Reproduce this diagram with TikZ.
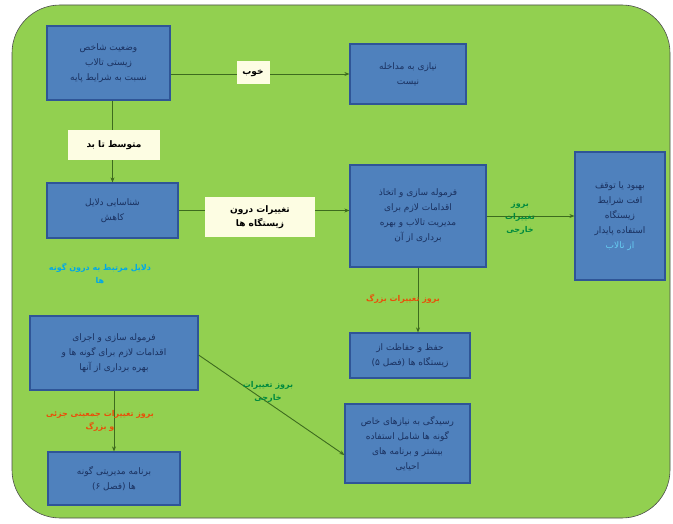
\documentclass[tikz,border=0pt]{standalone}
\usepackage{fontspec}
\newfontfamily\arabicfont[Script=Arabic]{DejaVu Sans}
\TeXXeTstate=1
\newcommand{\fa}[1]{\beginR #1\endR}
\definecolor{bggreen}{HTML}{92D050}
\definecolor{boxblue}{HTML}{4F81BD}
\definecolor{boxedge}{HTML}{2F5597}
\definecolor{boxtext}{HTML}{1A3160}
\definecolor{linegreen}{HTML}{3D6B1E}
\definecolor{cream}{HTML}{FDFDE3}
\definecolor{txtgreen}{HTML}{008A3E}
\definecolor{txtorange}{HTML}{E8500A}
\definecolor{txtcyan}{HTML}{00A8E8}
\usetikzlibrary{arrows.meta}
\tikzset{
  bluebox/.style={draw=boxedge, line width=1.2pt, fill=boxblue, text=boxtext,
    align=center, inner sep=2pt, font=\arabicfont\fontsize{9}{15}\selectfont},
  labelbox/.style={fill=cream, draw=none, text=black, align=center,
    font=\arabicfont\bfseries\fontsize{9}{14}\selectfont},
  arr/.style={draw=linegreen, line width=0.9pt, -{Stealth[length=5pt,width=4pt]}},
  coltext/.style={align=center, font=\arabicfont\bfseries\fontsize{8}{13}\selectfont}
}
\begin{document}
\begin{tikzpicture}[x=1pt,y=-1pt]
\useasboundingbox (0,0) rectangle (673,524);
\fill[white] (0,0) rectangle (673,524);
\draw[fill=bggreen, draw=black!70, line width=0.6pt, rounded corners=48pt] (12,5) rectangle (670,518);

% boxes
\node[bluebox, minimum width=123pt, minimum height=74pt] (b1) at (108.5,63)
  {\fa{وضعیت شاخص}\\\fa{زیستی تالاب}\\\fa{نسبت به شرایط پایه}};
\node[bluebox, minimum width=116pt, minimum height=60pt] (b2) at (408,74)
  {\fa{نیازی به مداخله}\\\fa{نیست}};
\node[bluebox, minimum width=131pt, minimum height=55pt] (b4) at (112.5,210.5)
  {\fa{شناسایی دلایل}\\\fa{کاهش}};
\node[bluebox, minimum width=136pt, minimum height=102pt] (b6) at (418,216)
  {\fa{فرموله سازی و اتخاذ}\\\fa{اقدامات لازم برای}\\\fa{مدیریت تالاب و بهره}\\\fa{برداری از آن}};
\node[bluebox, minimum width=90pt, minimum height=128pt] (b7) at (620,216)
  {\fa{بهبود یا توقف}\\\fa{افت شرایط}\\\fa{زیستگاه}\\\fa{استفاده پایدار}\\\textcolor{txtcyan!60!white}{\fa{از تالاب}}};
\node[bluebox, minimum width=120pt, minimum height=45pt] (b10) at (410,355.5)
  {\fa{حفظ و حفاظت از}\\\fa{زیستگاه ها (فصل ۵)}};
\node[bluebox, minimum width=168pt, minimum height=74pt] (b12) at (114,353)
  {\fa{فرموله سازی و اجرای}\\\fa{اقدامات لازم برای گونه ها و}\\\fa{بهره برداری از آنها}};
\node[bluebox, minimum width=125pt, minimum height=79pt] (b15) at (407.5,443.5)
  {\fa{رسیدگی به نیازهای خاص}\\\fa{گونه ها شامل استفاده}\\\fa{بیشتر و برنامه های}\\\fa{احیایی}};
\node[bluebox, minimum width=132pt, minimum height=53pt] (b16) at (114,478.5)
  {\fa{برنامه مدیریتی گونه}\\\fa{ها (فصل ۶)}};

% connectors
\draw[arr] (b1.east |- b2) -- (b2.west);
\draw[arr] (b1.south -| b4) -- (b4.north);
\draw[arr] (b4.east) -- (b4.east -| b6.west);
\draw[arr] (b6.east) -- (b7.west);
\draw[arr] (b6.south) -- (b6.south |- b10.north);
\draw[arr] (b12.south -| b16) -- (b16.north);
\coordinate (d1) at (b12.east |- 0,355);
\coordinate (d2) at (b15.west |- 0,455);
\draw[arr] (d1) -- (d2);

% labels on connectors
\node[labelbox, minimum width=33pt, minimum height=23pt] (l1) at (253,73) {\fa{خوب}};
\node[labelbox, minimum width=92pt, minimum height=30pt] (l2) at (114,145) {\fa{متوسط تا بد}};
\node[labelbox, minimum width=110pt, minimum height=40pt] (l3) at (260,217) {\fa{تغییرات درون}\\\fa{زیستگاه ها}};
\node[coltext, text=txtgreen] (l4) at (520,219) {\fa{بروز}\\\fa{تغییرات}\\\fa{خارجی}};
\node[coltext, text=txtorange] (l5) at (403,299) {\fa{بروز تغییرات بزرگ}};
\node[coltext, text=txtcyan] (l6) at (100,273) {\fa{دلایل مرتبط به درون گونه}\\\fa{ها}};
\node[coltext, text=txtorange] (l7) at (100,421) {\fa{بروز تغییرات جمعیتی جزئی}\\\fa{و بزرگ}};
\node[coltext, text=txtgreen] (l8) at (268,392) {\fa{بروز تغییرات}\\\fa{خارجی}};
\end{tikzpicture}
\end{document}
